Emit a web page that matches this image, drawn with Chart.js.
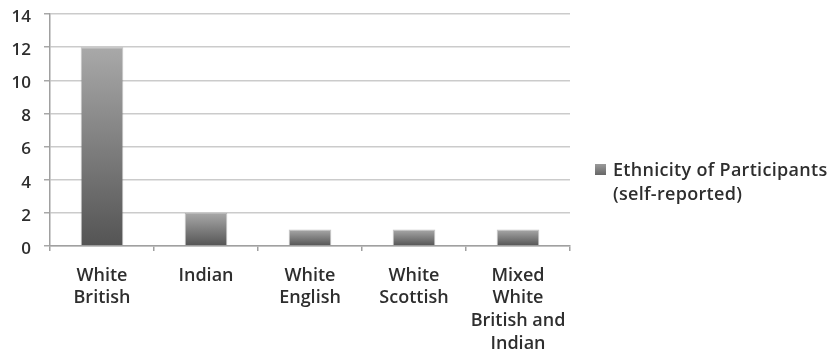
<!DOCTYPE html>
<html>
<head>
<meta charset="utf-8">
<title>Ethnicity of Participants</title>
<script src="https://cdn.jsdelivr.net/npm/chart.js@4/dist/chart.umd.min.js"></script>
<style>
  html, body { margin: 0; padding: 0; background: #fff; }
  #wrap { width: 830px; height: 361px; }
</style>
</head>
<body>
<div id="wrap"><canvas id="chart" width="830" height="361"></canvas></div>
<script>
"use strict";

// chart data
var categories = [
    ["White", "British"],
    "Indian",
    ["White", "English"],
    ["White", "Scottish"],
    ["Mixed", "White", "British and", "Indian"]
];
var participants = [12, 2, 1, 1, 1];
var seriesLabel = ["Ethnicity of Participants", "(self-reported)"];
var yMin = 0;
var yMax = 14;
var yStep = 2;

var FONT = "'Open Sans', 'DejaVu Sans', sans-serif";
var TEXT = "#2e2e2e";

// vertical grey gradient per bar, light on top and dark at the base
function barGradient(ctx) {
    var chart = ctx.chart;
    var y = chart.scales.y;
    if (!y || ctx.type !== "data") {
        return "#7d7d7d";
    }
    var top = y.getPixelForValue(ctx.parsed.y);
    var bottom = y.getPixelForValue(0);
    if (!isFinite(top) || !isFinite(bottom) || top === bottom) {
        return "#7d7d7d";
    }
    var g = chart.ctx.createLinearGradient(0, top, 0, bottom);
    g.addColorStop(0, "#a9a9a9");
    g.addColorStop(1, "#545454");
    return g;
}

// legend drawn by hand so the label can wrap on two lines
var sideLegend = {
    id: "sideLegend",
    afterDraw: function (chart) {
        var c = chart.ctx;
        var x = chart.chartArea.right + 25;
        var y = 164;
        c.save();
        var g = c.createLinearGradient(0, y, 0, y + 11);
        g.addColorStop(0, "#9a9a9a");
        g.addColorStop(1, "#666666");
        c.fillStyle = g;
        c.fillRect(x, y, 11, 11);
        c.fillStyle = TEXT;
        c.font = "600 18px " + FONT;
        if ("letterSpacing" in c) {
            c.letterSpacing = "0.3px";
        }
        c.textBaseline = "middle";
        c.textAlign = "left";
        seriesLabel.forEach(function (line, i) {
            c.fillText(line, x + 18, 171 + i * 24);
        });
        c.restore();
    }
};

new Chart(document.getElementById("chart"), {
    type: "bar",
    data: {
        labels: categories,
        datasets: [{
            label: seriesLabel.join(" "),
            data: participants,
            backgroundColor: barGradient,
            borderColor: "rgba(90,90,90,0.35)",
            borderWidth: 1,
            barPercentage: 0.41,
            categoryPercentage: 1
        }]
    },
    plugins: [sideLegend],
    options: {
        responsive: false,
        animation: false,
        layout: {
            padding: { top: 14, right: 260, left: 0, bottom: 0 }
        },
        plugins: {
            legend: { display: false },
            tooltip: { enabled: false }
        },
        scales: {
            x: {
                offset: true,
                grid: {
                    display: true,
                    offset: true,
                    drawOnChartArea: false,
                    drawTicks: true,
                    tickLength: 5,
                    color: "#a0a0a0",
                    lineWidth: 1.5
                },
                border: { color: "#a0a0a0", width: 1.5 },
                ticks: {
                    color: TEXT,
                    font: { family: FONT, size: 18, weight: "600", lineHeight: 1.27 },
                    padding: 13,
                    maxRotation: 0,
                    autoSkip: false
                },
                afterFit: function (scale) {
                    scale.height = 115;
                    scale.paddingLeft = 0;
                    scale.paddingRight = 0;
                }
            },
            y: {
                min: yMin,
                max: yMax,
                grid: {
                    color: "#cbcbcb",
                    lineWidth: 1.5,
                    tickLength: 6,
                    tickColor: "#a8a8a8"
                },
                border: { color: "#a0a0a0", width: 1.5 },
                ticks: {
                    stepSize: yStep,
                    color: TEXT,
                    font: { family: FONT, size: 17, weight: "600" },
                    padding: 13,
                    labelOffset: 3
                },
                afterFit: function (scale) {
                    scale.width = 50;
                    scale.paddingTop = 0;
                    scale.paddingBottom = 0;
                }
            }
        }
    }
});
</script>
</body>
</html>
